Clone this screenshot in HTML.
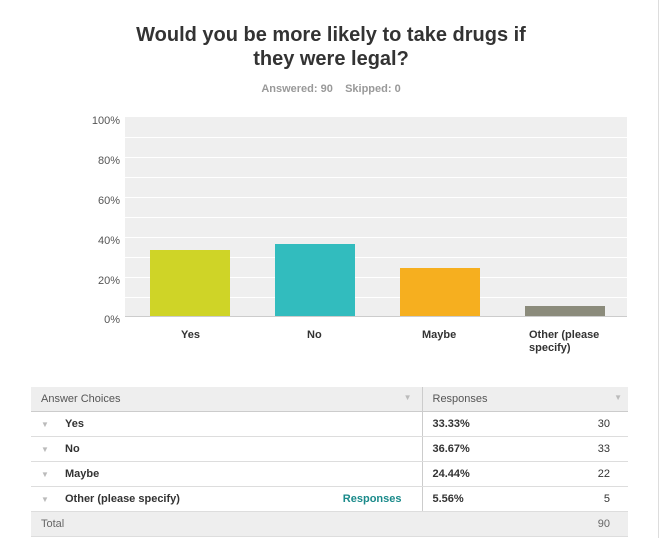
<!DOCTYPE html>
<html><head><style>
body{margin:0;width:662px;height:538px;background:#fff;font-family:"Liberation Sans",Arial,sans-serif;position:relative;overflow:hidden}
.a{position:absolute}
.t{left:0;width:662px;text-align:center;font-weight:bold;font-size:20px;color:#333;line-height:24px;top:23px}
.sub{left:0;width:662px;text-align:center;top:83px;font-size:11px;color:#999;font-weight:bold}
.yl{font-size:11px;color:#555;width:40px;text-align:right;left:80px}
.g{left:125px;width:502px;height:1px;background:#fff}
.xl{font-size:11px;font-weight:bold;color:#333}
table{position:absolute;left:31px;top:387px;width:597px;border-collapse:collapse;font-size:11px;color:#333;table-layout:fixed}
td{height:24px;border-bottom:1px solid #ddd;padding:0;white-space:nowrap}
.h td{background:#eee;color:#555;border-bottom:1px solid #ccc}
.tot td{background:#eee;color:#666}
.c1{padding-left:10px}
.dv{border-right:1px solid #ccc}
.tri{color:#bbb;font-size:8px;padding-left:10px}
</style></head><body>
<div class="a t">Would you be more likely to take drugs if<br>they were legal?</div>
<div class="a sub">Answered: 90 &nbsp;&nbsp; Skipped: 0</div>
<div class="a" style="left:125px;top:117px;width:502px;height:200px;background:#efefef"></div>
<div class="a g" style="top:137px"></div><div class="a g" style="top:157px"></div><div class="a g" style="top:177px"></div><div class="a g" style="top:197px"></div><div class="a g" style="top:217px"></div><div class="a g" style="top:237px"></div><div class="a g" style="top:257px"></div><div class="a g" style="top:277px"></div><div class="a g" style="top:297px"></div>
<div class="a" style="left:125px;top:316px;width:502px;height:1px;background:#ccc"></div>
<div class="a yl" style="top:115px">100%</div><div class="a yl" style="top:155px">80%</div><div class="a yl" style="top:195px">60%</div><div class="a yl" style="top:235px">40%</div><div class="a yl" style="top:275px">20%</div><div class="a yl" style="top:314px">0%</div>
<div class="a" style="left:150px;top:250px;width:80px;height:66px;background:#cfd427"></div>
<div class="a" style="left:275px;top:244px;width:80px;height:72px;background:#32bcbe"></div>
<div class="a" style="left:400px;top:268px;width:80px;height:48px;background:#f6af1f"></div>
<div class="a" style="left:525px;top:306px;width:80px;height:10px;background:#8b8b7b"></div>
<div class="a xl" style="left:181px;top:329px">Yes</div>
<div class="a xl" style="left:307px;top:329px">No</div>
<div class="a xl" style="left:422px;top:329px">Maybe</div>
<div class="a xl" style="left:529px;top:329px;line-height:13px">Other (please<br>specify)</div>
<div class="a" style="left:658px;top:0;width:1px;height:538px;background:#ddd"></div>
<table>
<colgroup><col style="width:34px"><col style="width:250px"><col style="width:107px"><col style="width:120px"><col style="width:86px"></colgroup>
<tr class="h"><td class="c1 dv" colspan="3">Answer Choices <span style="float:right;color:#bbb;font-size:8px;padding-right:10px">▼</span></td><td style="padding-left:10px" colspan="2">Responses <span style="float:right;color:#bbb;font-size:8px;padding-right:6px">▼</span></td></tr>
<tr><td class="tri">▼</td><td style="font-weight:bold">Yes</td><td class="dv"></td><td style="padding-left:10px;font-weight:bold">33.33%</td><td style="text-align:right;padding-right:18px">30</td></tr>
<tr><td class="tri">▼</td><td style="font-weight:bold">No</td><td class="dv"></td><td style="padding-left:10px;font-weight:bold">36.67%</td><td style="text-align:right;padding-right:18px">33</td></tr>
<tr><td class="tri">▼</td><td style="font-weight:bold">Maybe</td><td class="dv"></td><td style="padding-left:10px;font-weight:bold">24.44%</td><td style="text-align:right;padding-right:18px">22</td></tr>
<tr><td class="tri">▼</td><td style="font-weight:bold">Other (please specify)</td><td class="dv" style="text-align:right;padding-right:20px;color:#1a8a8a;font-weight:bold">Responses</td><td style="padding-left:10px;font-weight:bold">5.56%</td><td style="text-align:right;padding-right:18px">5</td></tr>
<tr class="tot"><td class="c1" colspan="4">Total</td><td style="text-align:right;padding-right:18px">90</td></tr>
</table>
</body></html>
